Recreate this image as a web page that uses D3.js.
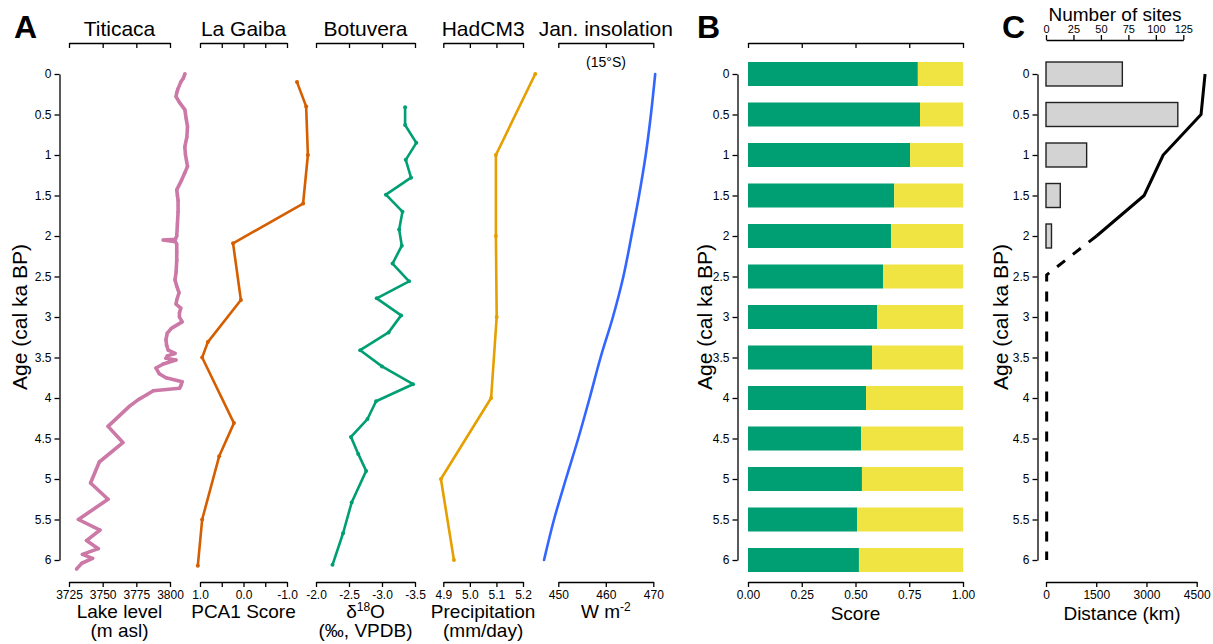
<!DOCTYPE html>
<html>
<head>
<meta charset="utf-8">
<script src="https://cdn.jsdelivr.net/npm/d3@7"></script>
<style>
  body { margin: 0; background: #fff; }
  svg text { font-family: "Liberation Sans", Arial, sans-serif; fill: #000; }
</style>
</head>
<body>
<div id="root"></div>
<script>
// ---- data ----
const ageTicks = [0, 0.5, 1, 1.5, 2, 2.5, 3, 3.5, 4, 4.5, 5, 5.5, 6];

const titicacaAge = [0, 0.05, 0.1, 0.18, 0.23, 0.28, 0.35, 0.44, 0.55, 0.65, 0.78, 0.9, 1.0, 1.14, 1.22, 1.31, 1.43, 1.5, 1.56, 1.7, 1.85, 2.0, 2.04, 2.05, 2.07, 2.1, 2.2, 2.3, 2.45, 2.54, 2.62, 2.7, 2.79, 2.84, 2.89, 2.95, 3.0, 3.06, 3.14, 3.2, 3.28, 3.35, 3.41, 3.45, 3.48, 3.51, 3.53, 3.58, 3.63, 3.7, 3.75, 3.8, 3.85, 3.88, 3.91, 3.96, 4.02, 4.1, 4.35, 4.55, 4.79, 5.05, 5.25, 5.5, 5.63, 5.76, 5.86, 5.93, 5.98, 6.04, 6.11];
const titicacaLevel = [3811, 3810, 3808, 3806, 3805, 3804.5, 3807, 3811, 3812, 3813, 3812.5, 3811, 3811.5, 3813, 3811, 3808.6, 3805, 3805.5, 3806, 3806, 3805.5, 3805, 3804, 3795, 3804, 3805, 3805, 3805, 3804.5, 3803.7, 3805, 3806.7, 3805, 3804.5, 3808, 3807, 3807, 3809, 3801, 3798, 3797, 3797.5, 3798.7, 3803.7, 3798, 3797, 3804.4, 3795, 3789.6, 3792, 3797, 3809, 3808, 3807, 3787.6, 3782.7, 3776.5, 3770, 3754, 3765, 3747.5, 3741, 3754, 3732, 3748, 3738, 3746.8, 3735, 3742.5, 3734.5, 3730.7];

const laGaibaAge = [0.1, 0.4, 1.0, 1.6, 2.09, 2.79, 3.31, 3.5, 4.31, 4.72, 5.5, 6.07];
const laGaibaPCA1 = [-1.23, -1.44, -1.48, -1.37, 0.24, 0.06, 0.82, 0.95, 0.22, 0.56, 0.95, 1.05];

const botuveraAge = [0.41, 0.63, 0.85, 1.06, 1.28, 1.49, 1.7, 1.92, 2.12, 2.34, 2.56, 2.77, 2.98, 3.19, 3.41, 3.61, 3.83, 4.04, 4.26, 4.48, 4.69, 4.9, 5.29, 5.67, 6.06];
const botuveraD18O = [-3.35, -3.35, -3.52, -3.36, -3.44, -3.06, -3.31, -3.26, -3.3, -3.16, -3.41, -2.92, -3.29, -3.1, -2.67, -3.0, -3.47, -2.91, -2.78, -2.53, -2.64, -2.76, -2.54, -2.41, -2.25];

const hadcm3Age = [0, 1, 2, 3, 4, 5, 6];
const hadcm3Precip = [5.246, 5.098, 5.098, 5.101, 5.08, 4.891, 4.94];

const insolAge = [0, 0.5, 1, 1.5, 2, 2.5, 3, 3.5, 4, 4.5, 5, 5.5, 6];
const insolWm2 = [470.4, 469.5, 468.4, 467.0, 465.4, 463.7, 461.5, 458.9, 456.6, 454.2, 451.6, 449.1, 447.0];

const scoreAge = [0, 0.5, 1, 1.5, 2, 2.5, 3, 3.5, 4, 4.5, 5, 5.5, 6];
const scoreGreen = [0.79, 0.8, 0.754, 0.68, 0.665, 0.628, 0.6, 0.577, 0.549, 0.526, 0.53, 0.507, 0.516];

const sitesAge = [0, 0.5, 1, 1.5, 2];
const sitesCount = [69.5, 120, 37, 13, 5];

const distAge = [0, 0.5, 1, 1.5, 2];
const distKm = [4750, 4630, 3500, 2930, 1510];
const distDashAge = [2, 2.48, 6];
const distDashKm = [1510, 20, 20];

// ---- layout ----
const W = 1213, H = 644;
const svg = d3.select("#root").append("svg")
  .attr("width", W).attr("height", H)
  .attr("viewBox", [0, 0, W, H]);

const y = d3.scaleLinear().domain([0, 6]).range([74, 560]);
const topY = 43, botY = 582;

function styleAxis(g, fs) {
  g.attr("font-family", null).attr("font-size", null);
  g.select(".domain").attr("stroke", "#000").attr("stroke-width", 1.3);
  g.selectAll(".tick line").attr("stroke", "#000").attr("stroke-width", 1.3);
  g.selectAll(".tick text").attr("fill", "#000").style("font-size", fs + "px");
}

function ageAxis(x0, yTitleX) {
  const g = svg.append("g").attr("transform", `translate(${x0},0)`)
    .call(d3.axisLeft(y).tickValues(ageTicks).tickFormat(d => String(d))
      .tickSize(5).tickSizeOuter(0).tickPadding(3));
  styleAxis(g, 12);
  svg.append("text")
    .attr("transform", `translate(${yTitleX},${(y(0) + y(6)) / 2}) rotate(-90)`)
    .attr("text-anchor", "middle").style("font-size", "21px")
    .text("Age (cal ka BP)");
}

function panelLetter(x, s) {
  svg.append("text").attr("x", x).attr("y", 38)
    .style("font-size", "32px").style("font-weight", "bold").text(s);
}

// ---- panel A ----
const panelsA = [
  { title: "Titicaca", domain: [3725, 3800], range: [69, 170], ticks: [3725, 3750, 3775, 3800],
    fmt: d => String(d), ages: titicacaAge, vals: titicacaLevel, color: "#CC79A7", sw: 3.6, r: 1.7,
    lab: ["Lake level", "(m asl)"] },
  { title: "La Gaiba", domain: [1, -1], range: [200, 287], ticks: [1, 0.5, 0, -0.5, -1],
    fmt: d => (d === 1 || d === 0 || d === -1) ? d.toFixed(1) : "",
    ages: laGaibaAge, vals: laGaibaPCA1, color: "#D55E00", sw: 2.6, r: 2,
    lab: ["PCA1 Score"] },
  { title: "Botuvera", domain: [-2, -3.5], range: [316, 415], ticks: [-2, -2.5, -3, -3.5],
    fmt: d => d.toFixed(1), ages: botuveraAge, vals: botuveraD18O, color: "#009E73", sw: 2.6, r: 2,
    lab: ["d18O", "(‰, VPDB)"] },
  { title: "HadCM3", domain: [4.9, 5.2], range: [443.3, 523], ticks: [4.9, 5.0, 5.1, 5.2],
    fmt: d => d.toFixed(1), ages: hadcm3Age, vals: hadcm3Precip, color: "#E69F00", sw: 2.6, r: 2,
    lab: ["Precipitation", "(mm/day)"] },
  { title: "Jan. insolation", domain: [450, 470], range: [558.3, 653.3], ticks: [450, 460, 470],
    fmt: d => String(d), ages: insolAge, vals: insolWm2, color: "#3366FF", sw: 2.6, r: 0, curve: d3.curveMonotoneY,
    lab: ["Wm2"] }
];

panelsA.forEach(p => {
  const x = d3.scaleLinear().domain(p.domain).range(p.range);
  const cx = (p.range[0] + p.range[1]) / 2;

  const gt = svg.append("g").attr("transform", `translate(0,${topY})`)
    .call(d3.axisBottom(x).tickValues(p.ticks).tickFormat("").tickSize(5).tickSizeOuter(0));
  styleAxis(gt, 12);
  const gb = svg.append("g").attr("transform", `translate(0,${botY})`)
    .call(d3.axisBottom(x).tickValues(p.ticks).tickFormat(p.fmt).tickSize(5).tickSizeOuter(0).tickPadding(3));
  styleAxis(gb, 12);

  svg.append("text").attr("x", cx).attr("y", 36).attr("text-anchor", "middle")
    .style("font-size", "21px").text(p.title);

  // bottom label
  const t1 = svg.append("text").attr("x", cx).attr("y", 618).attr("text-anchor", "middle")
    .style("font-size", "19px");
  if (p.lab[0] === "d18O") {
    t1.append("tspan").text("δ");
    t1.append("tspan").attr("dy", -7).style("font-size", "12px").text("18");
    t1.append("tspan").attr("dy", 7).text("O");
  } else if (p.lab[0] === "Wm2") {
    t1.append("tspan").text("W m");
    t1.append("tspan").attr("dy", -7).style("font-size", "12px").text("-2");
  } else {
    t1.text(p.lab[0]);
  }
  if (p.lab[1]) {
    svg.append("text").attr("x", cx).attr("y", 637).attr("text-anchor", "middle")
      .style("font-size", "19px").text(p.lab[1]);
  }

  const idx = d3.range(p.ages.length);
  const line = d3.line().x(i => x(p.vals[i])).y(i => y(p.ages[i]));
  if (p.curve) line.curve(p.curve);
  svg.append("path").datum(idx).attr("d", line)
    .attr("fill", "none").attr("stroke", p.color).attr("stroke-width", p.sw)
    .attr("stroke-linejoin", "round").attr("stroke-linecap", "round");
  if (p.r > 0) {
    svg.append("g").selectAll("circle").data(idx).join("circle")
      .attr("cx", i => x(p.vals[i])).attr("cy", i => y(p.ages[i])).attr("r", p.r)
      .attr("fill", p.color);
  }
});

svg.append("text").attr("x", 606).attr("y", 67).attr("text-anchor", "middle")
  .style("font-size", "14px").text("(15°S)");

ageAxis(59.5, 27);
panelLetter(14, "A");

// ---- panel B ----
const xScore = d3.scaleLinear().domain([0, 1]).range([748, 963]);
const barH = 24;
{
  const gt = svg.append("g").attr("transform", `translate(0,${topY})`)
    .call(d3.axisBottom(xScore).tickValues([0, 0.25, 0.5, 0.75, 1]).tickFormat("").tickSize(5).tickSizeOuter(0));
  styleAxis(gt, 12);
  const gb = svg.append("g").attr("transform", `translate(0,${botY})`)
    .call(d3.axisBottom(xScore).tickValues([0, 0.25, 0.5, 0.75, 1]).tickFormat(d => d.toFixed(2))
      .tickSize(5).tickSizeOuter(0).tickPadding(3));
  styleAxis(gb, 12);

  const bars = svg.append("g").selectAll("g").data(d3.range(scoreAge.length)).join("g");
  bars.append("rect")
    .attr("x", xScore(0)).attr("y", i => y(scoreAge[i]) - barH / 2)
    .attr("width", i => xScore(scoreGreen[i]) - xScore(0)).attr("height", barH)
    .attr("fill", "#009E73");
  bars.append("rect")
    .attr("x", i => xScore(scoreGreen[i])).attr("y", i => y(scoreAge[i]) - barH / 2)
    .attr("width", i => xScore(1) - xScore(scoreGreen[i])).attr("height", barH)
    .attr("fill", "#F0E442");

  svg.append("text").attr("x", (xScore(0) + xScore(1)) / 2).attr("y", 620)
    .attr("text-anchor", "middle").style("font-size", "19px").text("Score");
}
ageAxis(737.5, 712);
panelLetter(697, "B");

// ---- panel C ----
const xSites = d3.scaleLinear().domain([0, 125]).range([1046, 1183.3]);
const xDist = d3.scaleLinear().domain([0, 4500]).range([1046, 1196.7]);
{
  const gt = svg.append("g").attr("transform", `translate(0,40)`)
    .call(d3.axisTop(xSites).tickValues([0, 25, 50, 75, 100, 125]).tickFormat(d => String(d))
      .tickSize(5).tickSizeOuter(0).tickPadding(2));
  styleAxis(gt, 11);
  svg.append("text").attr("x", 1115).attr("y", 21).attr("text-anchor", "middle")
    .style("font-size", "19px").text("Number of sites");

  const gb = svg.append("g").attr("transform", `translate(0,${botY})`)
    .call(d3.axisBottom(xDist).tickValues([0, 1500, 3000, 4500]).tickFormat(d => String(d))
      .tickSize(5).tickSizeOuter(0).tickPadding(3));
  styleAxis(gb, 12);
  svg.append("text").attr("x", 1122).attr("y", 620).attr("text-anchor", "middle")
    .style("font-size", "19px").text("Distance (km)");

  svg.append("g").selectAll("rect").data(d3.range(sitesAge.length)).join("rect")
    .attr("x", xSites(0)).attr("y", i => y(sitesAge[i]) - barH / 2)
    .attr("width", i => xSites(sitesCount[i]) - xSites(0)).attr("height", barH)
    .attr("fill", "#D3D3D3").attr("stroke", "#222").attr("stroke-width", 1.4);

  const solid = d3.line().x(i => xDist(distKm[i])).y(i => y(distAge[i]));
  svg.append("path").datum(d3.range(distAge.length)).attr("d", solid)
    .attr("fill", "none").attr("stroke", "#000").attr("stroke-width", 3)
    .attr("stroke-linejoin", "round");
  const dashed = d3.line().x(i => xDist(distDashKm[i])).y(i => y(distDashAge[i]));
  svg.append("path").datum(d3.range(distDashAge.length)).attr("d", dashed)
    .attr("fill", "none").attr("stroke", "#000").attr("stroke-width", 3)
    .attr("stroke-dasharray", "10,10");
}
ageAxis(1037.5, 1008);
panelLetter(1002, "C");
</script>
</body>
</html>
